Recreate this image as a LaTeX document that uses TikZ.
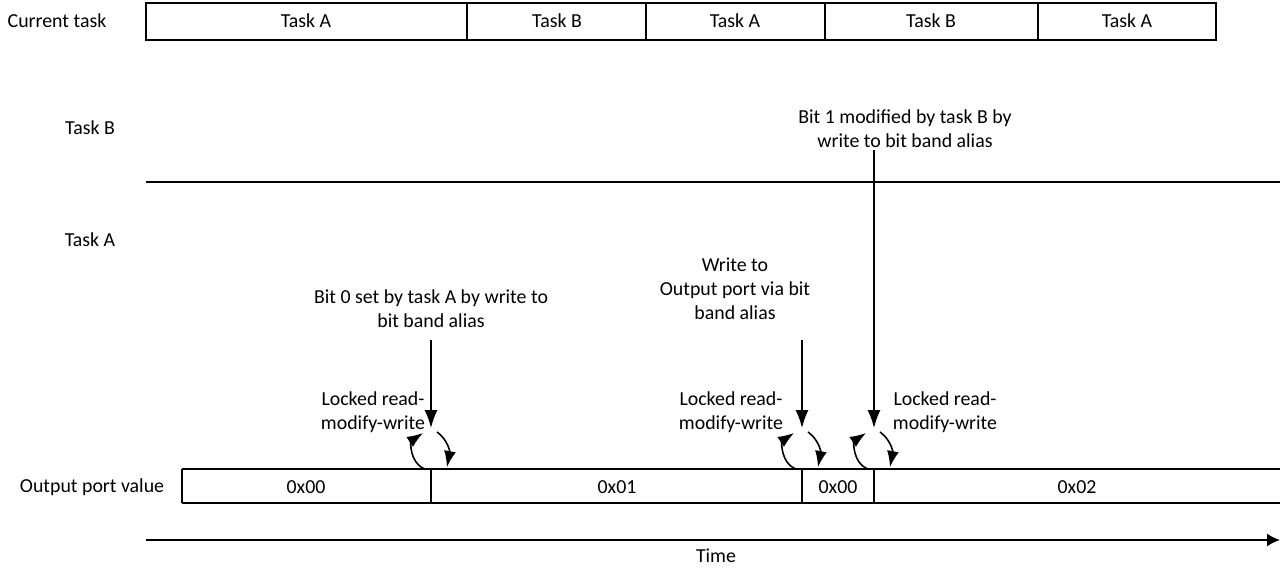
\documentclass[tikz,border=0pt]{standalone}
\usepackage{fontspec}
\setmainfont{Carlito}
\usetikzlibrary{arrows.meta, calc, positioning}

\begin{document}
\begin{tikzpicture}[
    x=0.02cm, y=-0.02cm,
    >={Latex[length=3.6mm,width=2.6mm]},
    every node/.style={font=\fontsize{11.3}{13.6}\selectfont, inner sep=0pt},
    lbl/.style={align=center},
    bar/.style={line width=0.9pt},
    rmw/.style={->, line width=0.9pt, >={Latex[length=3.2mm,width=2.4mm]}},
]
\useasboundingbox (0,0) rectangle (1280,568);
% current task row
\draw[bar] (146,3) rectangle (1216,40);
\foreach \x in {467,646,825,1038} {
   \draw[bar] (\x,3) -- (\x,40);
}
\node (cur) at (57,21) {Current task};
\node (ta1) at (306,21) {Task A};
\node (tb1) at (557,21) {Task B};
\node (ta2) at (735,21) {Task A};
\node (tb2) at (931,21) {Task B};
\node (ta3) at (1127,21) {Task A};
% task lanes
\node (laneb) at (90,128) {Task B};
\draw[bar] (146,182) -- (1280,182);
\node (lanea) at (90,240) {Task A};
% output port value row
\node (outp) at (92,487) {Output port value};
\draw[bar] (182,469) -- (1280,469);
\draw[bar] (182,503) -- (1280,503);
\draw[bar] (182,469) -- (182,503);
\coordinate (d1) at (431,469);
\coordinate (d2) at (802,469);
\coordinate (d3) at (874,469);
\foreach \d in {d1,d2,d3} {
   \draw[bar] (\d) -- ++(0,34);
}
\node (v1) at (306,487) {0x00};
\node (v2) at (617,487) {0x01};
\node (v3) at (838,487) {0x00};
\node (v4) at (1077,487) {0x02};
% writes via bit band alias
\node[lbl] (w1) at (431,309) {Bit 0 set by task A by write to\\bit band alias};
\node[lbl] (w2) at (735,289) {Write to\\Output port via bit\\band alias};
\node[lbl] (w3) at (905,129) {Bit 1 modified by task B by\\write to bit band alias};
\coordinate (t1) at (431,428);
\coordinate (t2) at (802,428);
\coordinate (t3) at (874,428);
\draw[->, bar] (431,340) -- (t1);
\draw[->, bar] (802,340) -- (t2);
\draw[->, bar] (874,150) -- (t3);
% locked read-modify-write
\node[lbl] (l1) at (373,412) {Locked read-\\modify-write};
\node[lbl] (l2) at (731,412) {Locked read-\\modify-write};
\node[lbl] (l3) at (945,412) {Locked read-\\modify-write};
\foreach \d in {d1,d2,d3} {
   \draw[rmw] ($(\d)+(-6,0)$) .. controls ($(\d)+(-22,-6)$) and ($(\d)+(-20,-28)$) .. ($(\d)+(-8,-36)$);
   \draw[rmw] ($(\d)+(6,-37)$) .. controls ($(\d)+(16,-30)$) and ($(\d)+(19,-18)$) .. ($(\d)+(16,-2)$);
}
% time axis
\coordinate (tend) at (1280,540);
\draw[->, bar, >={Latex[length=2.6mm,width=2.6mm]}] (146,540) -- (tend);
\node (time) at (716,556) {Time};
\end{tikzpicture}
\end{document}
